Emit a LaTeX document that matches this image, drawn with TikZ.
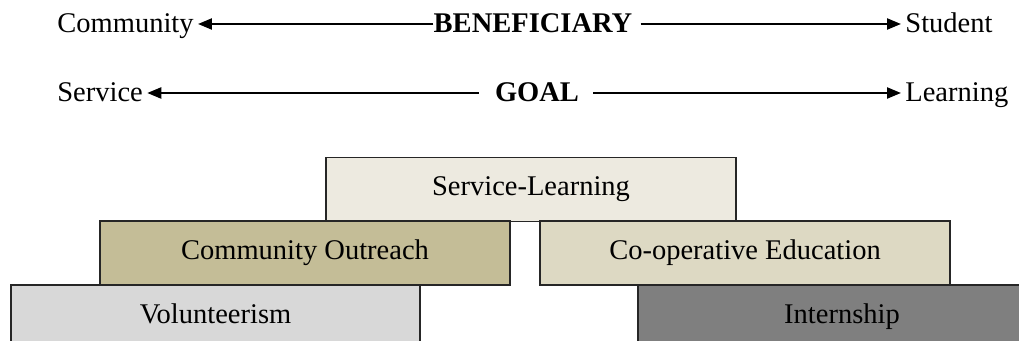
\documentclass[tikz,border=0pt]{standalone}
\usepackage{fontspec}
\setmainfont{Liberation Serif}
\usetikzlibrary{arrows.meta}
\definecolor{slfill}{HTML}{EDEAE0}
\definecolor{cofill}{HTML}{C4BD97}
\definecolor{cefill}{HTML}{DDD9C3}
\definecolor{vofill}{HTML}{D8D8D8}
\definecolor{infill}{HTML}{7F7F7F}
\definecolor{edge}{HTML}{262626}
\tikzset{
  lbl/.style={inner sep=0pt, font=\fontsize{14.25pt}{17pt}\selectfont},
  boxnode/.style={draw=edge, line width=0.9pt, inner sep=0pt, minimum height=32pt,
    text height=10pt, text depth=3.5pt,
    font=\fontsize{14.25pt}{17pt}\selectfont},
  axis/.style={line width=1.1pt, -{Triangle[length=7pt,width=5.5pt]}}
}
\begin{document}
\begin{tikzpicture}[x=0.5pt,y=-0.5pt]
\useasboundingbox (0,0) rectangle (1019,341);
\clip (0,0) rectangle (1019,341);
% top rows
\node[lbl, anchor=base west] (comm) at (57,33) {Community};
\node[lbl, anchor=base, font=\fontsize{14.25pt}{17pt}\selectfont\bfseries] (bene) at (533,33) {BENEFICIARY};
\node[lbl, anchor=base west] (stud) at (905,33) {Student};
\node[lbl, anchor=base west] (serv) at (57,102) {Service};
\node[lbl, anchor=base, font=\fontsize{14.25pt}{17pt}\selectfont\bfseries] (goal) at (537,102) {GOAL};
\node[lbl, anchor=base west] (lear) at (905,102) {Learning};
\draw[axis] ([yshift=4.5pt]bene.base west) -- ([xshift=2pt,yshift=4.5pt]comm.base east);
\draw[axis] ([xshift=4pt,yshift=4.5pt]bene.base east) -- ([xshift=-2pt,yshift=4.5pt]stud.base west);
\draw[axis] ([xshift=-8pt,yshift=4.5pt]goal.base west) -- ([xshift=2pt,yshift=4.5pt]serv.base east);
\draw[axis] ([xshift=7pt,yshift=4.5pt]goal.base east) -- ([xshift=-2pt,yshift=4.5pt]lear.base west);
% boxes
\node[boxnode, fill=slfill, minimum width=205pt] (sl) at (531,189.5) {Service-Learning};
\node[boxnode, fill=cofill, minimum width=205pt] (co) at (305,253) {Community Outreach};
\node[boxnode, fill=cefill, minimum width=205pt] (ce) at (745,253) {Co-operative Education};
\node[boxnode, fill=vofill, minimum width=204.5pt] (vo) at (215.5,317) {Volunteerism};
\node[boxnode, fill=infill, minimum width=204pt] (in) at (842,317) {Internship};
\end{tikzpicture}
\end{document}
